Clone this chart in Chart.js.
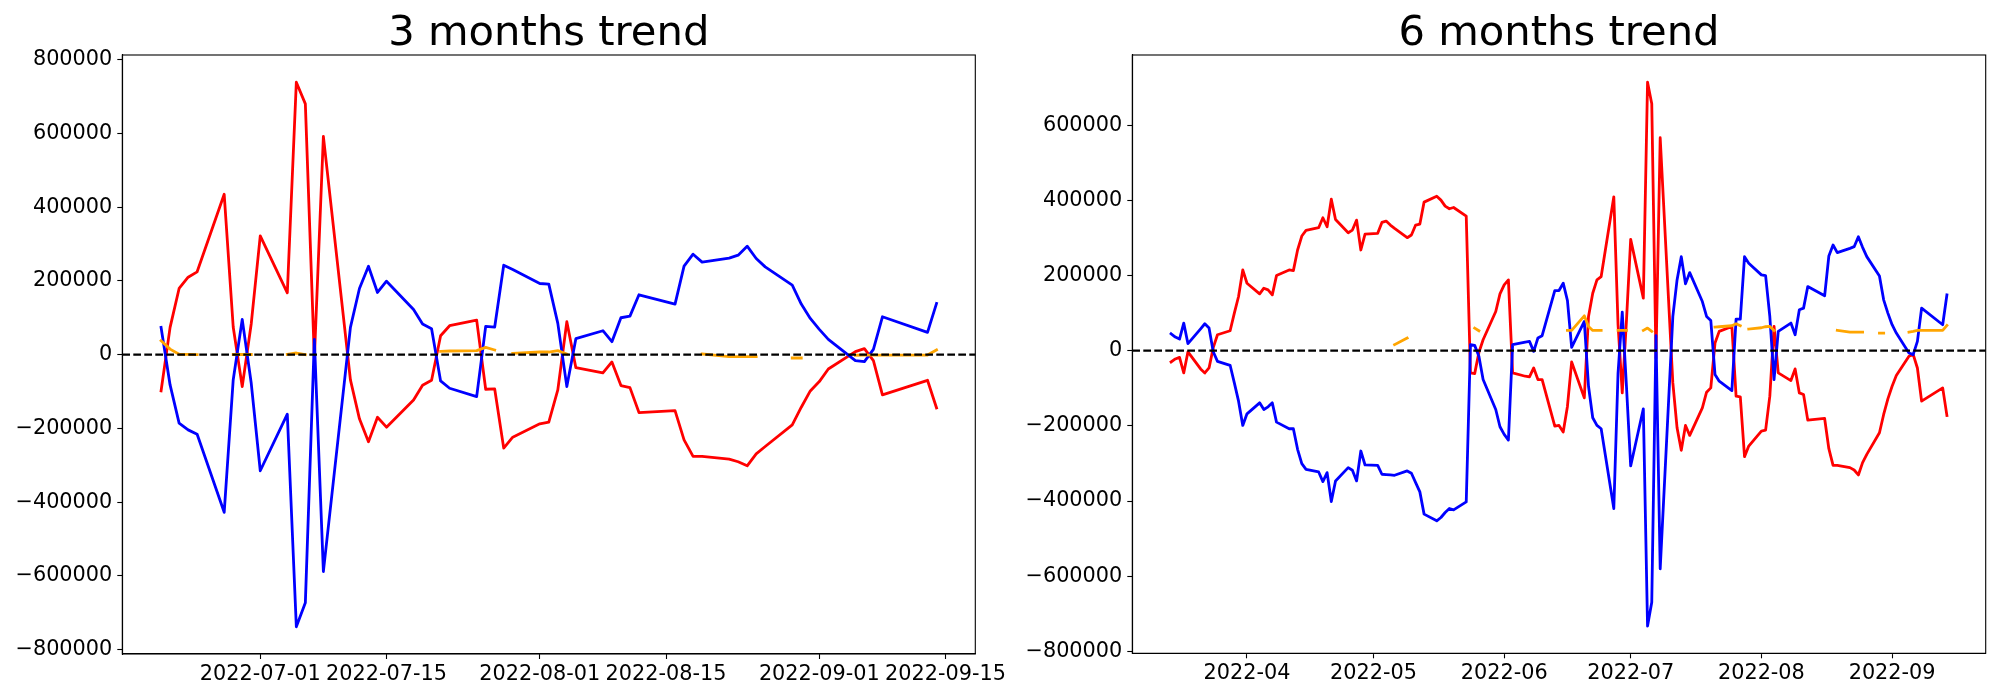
<!DOCTYPE html>
<html>
<head>
<meta charset="utf-8">
<title>3 / 6 months trend</title>
<script src="https://cdn.jsdelivr.net/npm/chart.js@4.4.1/dist/chart.umd.min.js"></script>
<style>
  html, body { margin: 0; padding: 0; background: #fff; }
  #wrap { position: relative; width: 2000px; height: 700px; overflow: hidden; }
  canvas { position: absolute; top: 0; }
  #chart3m { left: 0; }
  #chart6m { left: 1000px; }
</style>
</head>
<body>
<div id="wrap">
  <canvas id="chart3m" width="1040" height="700"></canvas>
  <canvas id="chart6m" width="1000" height="700"></canvas>
</div>
<script>
/**
 * 3 months / 6 months trend (two panels, red / blue / orange + dashed zero line)
 */

// trading days shown on the 6 months panel (3 months panel starts at 2022-06-20)
const dates6m = [
  '2022-03-14', '2022-03-15', '2022-03-16', '2022-03-17', '2022-03-18',
  '2022-03-21', '2022-03-22', '2022-03-23', '2022-03-24', '2022-03-25',
  '2022-03-28', '2022-03-29', '2022-03-30', '2022-03-31', '2022-04-01',
  '2022-04-04', '2022-04-05', '2022-04-06', '2022-04-07', '2022-04-08',
  '2022-04-11', '2022-04-12', '2022-04-13', '2022-04-14', '2022-04-15',
  '2022-04-18', '2022-04-19', '2022-04-20', '2022-04-21', '2022-04-22',
  '2022-04-25', '2022-04-26', '2022-04-27', '2022-04-28', '2022-04-29',
  '2022-05-02', '2022-05-03', '2022-05-04', '2022-05-05', '2022-05-06',
  '2022-05-09', '2022-05-10', '2022-05-11', '2022-05-12', '2022-05-13',
  '2022-05-16', '2022-05-17', '2022-05-18', '2022-05-19', '2022-05-20',
  '2022-05-23', '2022-05-24', '2022-05-25', '2022-05-26', '2022-05-27',
  '2022-05-30', '2022-05-31', '2022-06-01', '2022-06-02', '2022-06-03',
  '2022-06-06', '2022-06-07', '2022-06-08', '2022-06-09', '2022-06-10',
  '2022-06-13', '2022-06-14', '2022-06-15', '2022-06-16', '2022-06-17',
  '2022-06-20', '2022-06-21', '2022-06-22', '2022-06-23', '2022-06-24',
  '2022-06-27', '2022-06-28', '2022-06-29', '2022-06-30', '2022-07-01',
  '2022-07-04', '2022-07-05', '2022-07-06', '2022-07-07', '2022-07-08',
  '2022-07-11', '2022-07-12', '2022-07-13', '2022-07-14', '2022-07-15',
  '2022-07-18', '2022-07-19', '2022-07-20', '2022-07-21', '2022-07-22',
  '2022-07-25', '2022-07-26', '2022-07-27', '2022-07-28', '2022-07-29',
  '2022-08-01', '2022-08-02', '2022-08-03', '2022-08-04', '2022-08-05',
  '2022-08-08', '2022-08-09', '2022-08-10', '2022-08-11', '2022-08-12',
  '2022-08-16', '2022-08-17', '2022-08-18', '2022-08-19',
  '2022-08-22', '2022-08-23', '2022-08-24', '2022-08-25', '2022-08-26',
  '2022-08-29', '2022-08-30', '2022-08-31', '2022-09-01', '2022-09-02',
  '2022-09-05', '2022-09-06', '2022-09-07', '2022-09-08',
  '2022-09-13', '2022-09-14',
];
const dates3m = dates6m.slice(dates6m.indexOf('2022-06-20'));

// 3 months panel
const red3m = [
  -98300, 74000, 179500, 210000, 224600,
  434800, 75000, -86600, 84000, 322000,
  167800, 738700, 680000, -10000, 591700,
  -68500, -174000, -236000, -169600, -196600,
  -122700, -83000, -69500, 51400, 78500,
  93800, -93800, -92900, -253500, -223700,
  -187600, -183100, -95600, 89300, -35200,
  -49600, -19800, -83900, -89300, -157000,
  -151500, -230900, -276000, -276000,
  -283200, -290400, -301300, -268800, -249000,
  -190300, -142500, -98300, -73000, -38800,
  8100, 16200, -16200, -109100,
  -69500, -144300,
];
const blue3m = [
  74000, -82100, -185800, -203900, -215600,
  -427500, -68500, 95600, -77600, -314800,
  -161500, -737800, -672900, 41500, -588100,
  74000, 179500, 239900, 168700, 199300,
  122700, 83000, 70400, -71300, -91100,
  -113700, 76700, 74900, 242600, 230900,
  193000, 191200, 84800, -86600, 43300,
  64900, 35200, 100100, 104600, 162400,
  137100, 239900, 272400, 250800,
  261600, 269700, 294100, 260700, 238100,
  188500, 137100, 98300, 68600, 41500,
  -16200, -18900, 14400, 102800,
  60400, 138900,
];
const orange3m = [
  37900, 15000, 1000, 1000, 0,
  null, 500, 500, 500, null,
  1000, 4500, 0, null, null,
  null, null, null, null, null,
  null, null, null, 9000, 9900,
  10800, 19800, 12600, null, 3600,
  7200, 7200, 10800, 1800, null,
  null, null, null, null, null,
  null, null, null, 1800,
  -5400, -5400, -5400, -5400, null,
  -9000, -9000, null, null, null,
  -1500, -1000, -1000, -1000,
  -1000, 12600,
];

// 6 months panel
const red6m = [
  -30000, -22100, -17700, -59200, -3000,
  -48600, -59200, -46000, 8000, 42400,
  53000, 99900, 144100, 214800, 179500,
  151200, 166200, 161800, 148500, 199800,
  214800, 213000, 267900, 305000, 320000,
  327100, 353600, 329700, 403100, 349200,
  313800, 320900, 347400, 267900, 310300,
  312100, 341200, 344800, 334200, 325300,
  300600, 307600, 334200, 336800, 395200,
  411100, 400500, 384500, 377500, 381000,
  358000, -59200, -61000, -5000, 29200,
  104300, 151200, 175000, 188300, -59200,
  -68000, -69800, -46000, -76900, -76900,
  -200700, -198900, -216600, -148500, -30000,
  -125500, 91000, 152900, 188300, 197100,
  409300, 70000, -112300, 80000, 296100,
  139700, 714300, 656800, -20000, 566600,
  -85700, -205100, -265200, -198900, -225400,
  -152000, -110500, -99000, 20300, 51300,
  64500, -121100, -122900, -282000, -253700,
  -213900, -211300, -121100, 64500, -59200,
  -79600, -48600, -112300, -116700, -184800,
  -180300, -260800, -305000, -305000,
  -311200, -317400, -330600, -297900, -275800,
  -218300, -169700, -128200, -94600, -66300,
  -15000, -10000, -46000, -134400,
  -99000, -172400,
];
const blue6m = [
  45100, 36200, 30900, 73400, 18600,
  58000, 71600, 60100, -3000, -28300,
  -38900, -85700, -134400, -198900, -168000,
  -138800, -156500, -149400, -138800, -190100,
  -207700, -207700, -262500, -300600, -315600,
  -322700, -348300, -324400, -401300, -346500,
  -311200, -318200, -346500, -267000, -304100,
  -305000, -328800, -329700, -330600, -331500,
  -320000, -326200, -350900, -375700, -434900,
  -452600, -443800, -430500, -419900, -423400,
  -402200, 15900, 14100, -15000, -76900,
  -156500, -202400, -222800, -237800, 15900,
  23000, 24800, -1800, 33600, 39800,
  160000, 160000, 179500, 133500, 8800,
  77800, -94600, -178600, -198900, -207700,
  -419900, -60000, 102500, -94600, -306700,
  -154700, -732800, -669200, 40000, -580400,
  91100, 188300, 250200, 177700, 207700,
  130800, 91100, 80400, -63600, -81300,
  -106100, 84000, 84000, 250200, 232500,
  201600, 199800, 91000, -76900, 51300,
  73400, 42400, 108700, 113200, 170600,
  145900, 251900, 281100, 260800,
  272300, 276700, 303200, 274900, 250200,
  198900, 135300, 99900, 69000, 46900,
  -6200, -10600, 24800, 113200,
  69000, 148500,
];
const orange6m = [
  null, null, null, null, null,
  null, null, null, null, null,
  null, null, null, null, null,
  null, null, null, null, null,
  null, null, null, null, null,
  null, null, null, null, null,
  null, null, null, null, null,
  null, null, null, null, 15900,
  33600, null, null, null, null,
  null, null, null, null, null,
  null, null, 60100, 53000, null,
  null, null, null, null, null,
  null, null, null, null, null,
  null, null, null, 53900, 53900,
  92800, 64500, 53900, 53900, 53900,
  null, 53900, 53900, 53900, null,
  53900, 60100, 51300, null, null,
  null, null, null, null, null,
  null, null, null, 62800, 63700,
  66300, 71600, 66300, null, 57500,
  61000, 63700, 64500, 53900, null,
  null, null, null, null, null,
  null, null, null, 53900,
  49500, 49500, 49500, 49500, null,
  46900, 46900, null, null, null,
  49500, 51300, 53900, 53900,
  53900, 67200,
];

// tick labels
const xTicks3m = ['2022-07-01', '2022-07-15', '2022-08-01', '2022-08-15', '2022-09-01', '2022-09-15'];
const xTicks6m = ['2022-04', '2022-05', '2022-06', '2022-07', '2022-08', '2022-09'];
const yTicks3m = [-800000, -600000, -400000, -200000, 0, 200000, 400000, 600000, 800000];
const yTicks6m = [-800000, -600000, -400000, -200000, 0, 200000, 400000, 600000];

const FONT = "'DejaVu Sans', sans-serif";
const DAY = 86400000;

function dayNum(s) {
  if (s.length === 7) s += '-01';
  return Date.parse(s) / DAY;
}

function toPoints(dates, vals) {
  return dates.map((d, i) => ({ x: dayNum(d), y: vals[i] }));
}

// matplotlib style autoscale: data range + 5% each side
function padRange(vals) {
  const v = vals.filter((x) => x != null);
  const lo = Math.min(...v);
  const hi = Math.max(...v);
  const m = (hi - lo) * 0.05;
  return [lo - m, hi + m];
}

function fmtTick(v) {
  return v < 0 ? '\u2212' + Math.abs(v) : String(v);
}

const zeroLine = {
  id: 'zeroLine',
  afterDatasetsDraw(chart) {
    const { ctx, chartArea } = chart;
    const y0 = chart.scales.y.getPixelForValue(0);
    ctx.save();
    ctx.strokeStyle = '#000';
    ctx.lineWidth = 2.1;
    ctx.setLineDash([7.7, 3.3]);
    ctx.beginPath();
    ctx.moveTo(chartArea.left, y0);
    ctx.lineTo(chartArea.right, y0);
    ctx.stroke();
    ctx.restore();
  },
};

// box round the axes, like matplotlib spines
const frame = {
  id: 'frame',
  afterDraw(chart) {
    const { ctx, chartArea: a } = chart;
    ctx.save();
    ctx.strokeStyle = '#000';
    ctx.lineWidth = 1.1;
    ctx.strokeRect(a.left, a.top, a.right - a.left, a.bottom - a.top);
    ctx.restore();
  },
};

function lineSet(data, color, order) {
  return {
    data,
    borderColor: color,
    backgroundColor: color,
    borderWidth: 2.8,
    borderJoinStyle: 'round',
    borderCapStyle: 'square',
    pointRadius: 0,
    tension: 0,
    spanGaps: false,
    order,
  };
}

function makeTrendChart(id, o) {
  const xs = o.dates.map(dayNum);
  const [xMin, xMax] = padRange(xs);
  const [yMin, yMax] = padRange(o.red.concat(o.blue, o.orange));
  const xTickVals = o.xTicks.map(dayNum);

  return new Chart(document.getElementById(id), {
    type: 'line',
    data: {
      datasets: [
        lineSet(toPoints(o.dates, o.orange), '#ffa500', 1),
        lineSet(toPoints(o.dates, o.blue), '#0000ff', 2),
        lineSet(toPoints(o.dates, o.red), '#ff0000', 3),
      ],
    },
    options: {
      responsive: false,
      animation: false,
      devicePixelRatio: 1,
      layout: { padding: { left: 0, right: o.padRight, top: 0, bottom: 0 } },
      plugins: {
        legend: { display: false },
        tooltip: { enabled: false },
        title: {
          display: true,
          text: o.title,
          fullSize: false,
          color: '#000',
          font: { family: FONT, size: 41.7, weight: 'normal', lineHeight: 1 },
          padding: { top: 13.3, bottom: 0 },
        },
      },
      scales: {
        x: {
          type: 'linear',
          min: xMin,
          max: xMax,
          grid: { drawOnChartArea: false, tickLength: 5, tickColor: '#000', tickWidth: 1.1 },
          border: { color: '#000', width: 1.1 },
          ticks: {
            color: '#000',
            font: { family: FONT, size: 20.8, lineHeight: 1 },
            padding: 5,
            maxRotation: 0,
            autoSkip: false,
            callback: (v, i) => o.xTicks[i],
          },
          afterBuildTicks: (s) => {
            s.ticks = xTickVals.map((v) => ({ value: v }));
          },
          afterFit: (s) => {
            s.height = o.xAxisHeight;
            s.paddingLeft = 0;
            s.paddingRight = 0;
          },
        },
        y: {
          type: 'linear',
          min: yMin,
          max: yMax,
          grid: { drawOnChartArea: false, tickLength: 5, tickColor: '#000', tickWidth: 1.1 },
          border: { color: '#000', width: 1.1 },
          ticks: {
            color: '#000',
            font: { family: FONT, size: 20.8, lineHeight: 1 },
            padding: 5,
            autoSkip: false,
            callback: (v) => fmtTick(v),
          },
          afterBuildTicks: (s) => {
            s.ticks = o.yTicks.map((v) => ({ value: v }));
          },
          afterFit: (s) => {
            s.width = o.yAxisWidth;
            s.paddingTop = 0;
            s.paddingBottom = 0;
          },
        },
      },
    },
    plugins: [zeroLine, frame],
  });
}

makeTrendChart('chart3m', {
  title: '3 months trend',
  dates: dates3m,
  red: red3m,
  blue: blue3m,
  orange: orange3m,
  xTicks: xTicks3m,
  yTicks: yTicks3m,
  yAxisWidth: 122.3,
  padRight: 64.7,
  xAxisHeight: 46,
});

makeTrendChart('chart6m', {
  title: '6 months trend',
  dates: dates6m,
  red: red6m,
  blue: blue6m,
  orange: orange6m,
  xTicks: xTicks6m,
  yTicks: yTicks6m,
  yAxisWidth: 132.3,
  padRight: 14.3,
  xAxisHeight: 46.7,
});
</script>
</body>
</html>
